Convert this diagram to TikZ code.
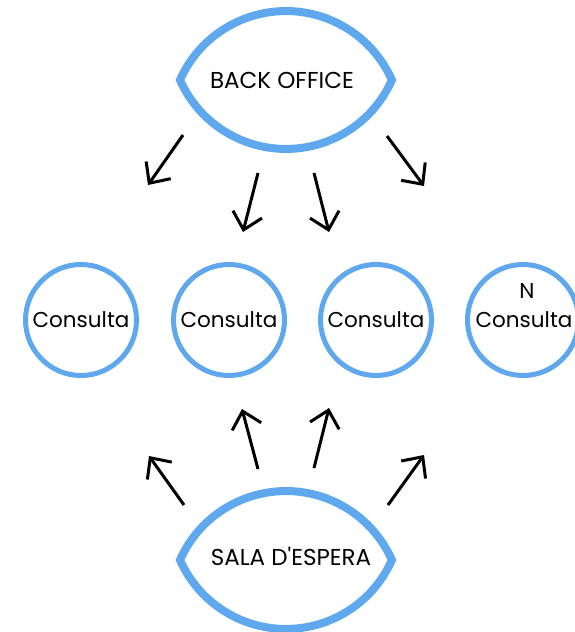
\documentclass[tikz,border=0pt]{standalone}
\usepackage{fontspec}
\setmainfont{Poppins}
\usetikzlibrary{arrows.meta}
\definecolor{lensblue}{RGB}{95,168,238}
\begin{document}
\begin{tikzpicture}[x=1pt,y=-1pt,
  consult/.style={circle, draw=lensblue, line width=5pt, minimum size=111pt, inner sep=0pt},
  ctext/.style={font=\fontsize{21.5}{24}\selectfont, inner sep=0pt},
  lenstext/.style={font=\fontsize{23}{26}\selectfont, inner sep=0pt},
  lensline/.style={draw=lensblue, line width=8pt, line join=miter},
  flow/.style={line width=3pt, -{Straight Barb[length=16pt,width=30pt,line width=3pt]}},
]
\useasboundingbox (0,0) rectangle (575,632);

% lenses
\coordinate (topc) at (286,80);
\coordinate (botc) at (286,560);
\draw[lensline] ([xshift=-106pt]topc) arc[start angle=203.9, end angle=336.1, radius=115.9]
  arc[start angle=23.9, end angle=156.1, radius=115.9] -- cycle;
\draw[lensline] ([xshift=-106pt]botc) arc[start angle=203.9, end angle=336.1, radius=115.9]
  arc[start angle=23.9, end angle=156.1, radius=115.9] -- cycle;
\node[lenstext] (back) at (282,80) {BACK OFFICE};
\node[lenstext] (sala) at (291,556) {SALA D\textquotesingle ESPERA};

% consultes
\node[consult] (c1) at (81,320) {};
\node[consult] (c2) at (229,320) {};
\node[consult] (c3) at (376,320) {};
\node[consult] (c4) at (523,320) {};
\node[ctext] (t1) at (c1) {Consulta};
\node[ctext] (t2) at (c2) {Consulta};
\node[ctext] (t3) at (c3) {Consulta};
\node[ctext] (t4) at (524,320) {Consulta};
\node[ctext] (n4) at (527,291) {N};

% arrows from back office
\coordinate (a1s) at (183,135); \coordinate (a1e) at (148,185);
\coordinate (a2s) at (258,173); \coordinate (a2e) at (243,232);
\coordinate (a3s) at (314,173); \coordinate (a3e) at (329,232);
\coordinate (a4s) at (387,136); \coordinate (a4e) at (424,186);
\draw[flow] (a1s) -- (a1e);
\draw[flow] (a2s) -- (a2e);
\draw[flow] (a3s) -- (a3e);
\draw[flow] (a4s) -- (a4e);

% arrows from sala d'espera
\coordinate (b1s) at (184,505); \coordinate (b1e) at (149,456);
\coordinate (b2s) at (258,469); \coordinate (b2e) at (242,409);
\coordinate (b3s) at (314,468); \coordinate (b3e) at (329,408);
\coordinate (b4s) at (388,505); \coordinate (b4e) at (424,455);
\draw[flow] (b1s) -- (b1e);
\draw[flow] (b2s) -- (b2e);
\draw[flow] (b3s) -- (b3e);
\draw[flow] (b4s) -- (b4e);
\end{tikzpicture}
\end{document}
